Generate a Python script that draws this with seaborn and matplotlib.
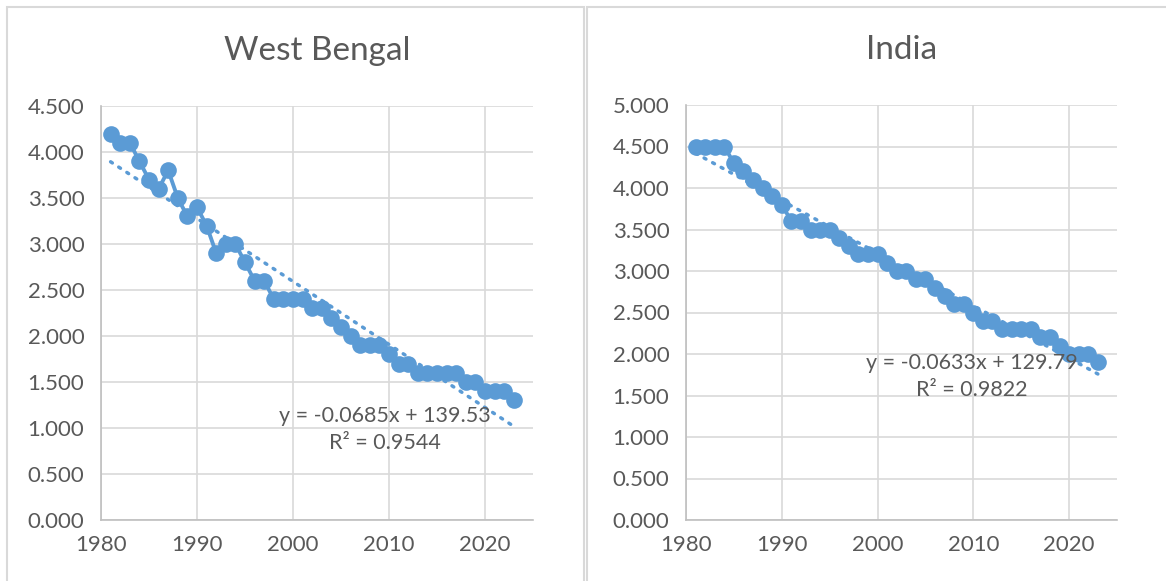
import matplotlib
matplotlib.use('Agg')
import numpy as np
import pandas as pd
import matplotlib.pyplot as plt
import seaborn as sns
from matplotlib.ticker import FormatStrFormatter, MultipleLocator
from matplotlib.patches import Rectangle

years = list(range(1981, 2024))
west_bengal = [4.2, 4.1, 4.1, 3.9, 3.7, 3.6, 3.8, 3.5, 3.3, 3.4,
               3.2, 2.9, 3.0, 3.0, 2.8, 2.6, 2.6, 2.4, 2.4, 2.4,
               2.4, 2.3, 2.3, 2.2, 2.1, 2.0, 1.9, 1.9, 1.9, 1.8,
               1.7, 1.7, 1.6, 1.6, 1.6, 1.6, 1.6, 1.5, 1.5, 1.4,
               1.4, 1.4, 1.3]
india = [4.5, 4.5, 4.5, 4.5, 4.3, 4.2, 4.1, 4.0, 3.9, 3.8,
         3.6, 3.6, 3.5, 3.5, 3.5, 3.4, 3.3, 3.2, 3.2, 3.2,
         3.1, 3.0, 3.0, 2.9, 2.9, 2.8, 2.7, 2.6, 2.6, 2.5,
         2.4, 2.4, 2.3, 2.3, 2.3, 2.3, 2.2, 2.2, 2.1, 2.0,
         2.0, 2.0, 1.9]
titles = ["West Bengal", "India"]
eq_labels = ["y = -0.0685x + 139.53\nR² = 0.9544",
             "y = -0.0633x + 129.79\nR² = 0.9822"]

sns.set_style("white")
plt.rcParams['font.family'] = ['Lato', 'DejaVu Sans']

blue = "#5b9bd5"
grey_txt = "#595959"

fig = plt.figure(figsize=(11.66, 5.81), dpi=100)

# chart boxes
for x0, w in [(7, 577), (587, 590)]:
    fig.add_artist(Rectangle((x0 / 1166, -0.05), w / 1166, 1.05 - 7 / 581,
                             transform=fig.transFigure, fill=False,
                             edgecolor="#d9d9d9", linewidth=1.5))

ax1 = fig.add_axes([101 / 1166, 1 - 520 / 581, 432 / 1166, 414 / 581])
ax2 = fig.add_axes([686 / 1166, 1 - 520 / 581, 431 / 1166, 415 / 581])

setup = [
    (ax1, west_bengal, 4.5, (2009.6, 0.98)),
    (ax2, india, 5.0, (2009.8, 1.73)),
]

for i, (ax, vals, ymax, txt_pos) in enumerate(setup):
    df = pd.DataFrame({"year": years, "value": vals})
    sns.regplot(data=df, x="year", y="value", ax=ax, scatter=False, ci=None,
                color=blue, line_kws=dict(linestyle=(0, (0.6, 2.2)), linewidth=2.5,
                                          dash_capstyle="round"))
    sns.lineplot(data=df, x="year", y="value", ax=ax, color=blue, marker="o",
                 markersize=12, linewidth=2.8, markeredgewidth=0)
    ax.set_xlim(1980, 2025)
    ax.set_ylim(0, ymax)
    ax.yaxis.set_major_locator(MultipleLocator(0.5))
    ax.yaxis.set_major_formatter(FormatStrFormatter('%.3f'))
    ax.set_xticks([1980, 1990, 2000, 2010, 2020])
    ax.grid(True, color="#d9d9d9", linewidth=1.2)
    ax.set_axisbelow(True)
    for s in ["top", "right"]:
        ax.spines[s].set_visible(False)
    for s in ["left", "bottom"]:
        ax.spines[s].set_color("#bfbfbf")
        ax.spines[s].set_linewidth(1.2)
    ax.tick_params(axis="both", labelsize=16, colors=grey_txt, length=0)
    ax.tick_params(axis="x", pad=11)
    ax.tick_params(axis="y", pad=12)
    ax.set_xlabel("")
    ax.set_ylabel("")
    ax.set_title(titles[i], fontsize=24, color=grey_txt, pad=33)
    ax.text(txt_pos[0], txt_pos[1], eq_labels[i], ha="center", va="center",
            fontsize=15.5, color=grey_txt, linespacing=1.45)

fig.savefig("out.png", dpi=100)
